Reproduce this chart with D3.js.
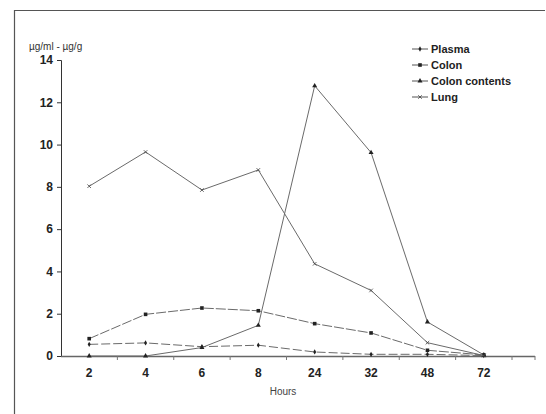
<!DOCTYPE html>
<html>
<head>
<meta charset="utf-8">
<script src="https://cdnjs.cloudflare.com/ajax/libs/d3/7.8.5/d3.min.js"></script>
<style>
  body { margin: 0; background: #fff; }
  svg { display: block; }
</style>
</head>
<body>
<svg id="chart" width="546" height="414"></svg>
<script>
// data
var hours = ["2", "4", "6", "8", "24", "32", "48", "72"];
var plasma = [0.55, 0.62, 0.44, 0.51, 0.19, 0.08, 0.08, 0.02];
var colon = [0.82, 1.97, 2.27, 2.14, 1.53, 1.09, 0.27, 0.05];
var colonContents = [0.0, 0.0, 0.40, 1.45, 12.78, 9.62, 1.61, 0.05];
var lung = [8.03, 9.65, 7.85, 8.8, 4.36, 3.1, 0.63, 0.02];
var yTicks = [0, 2, 4, 6, 8, 10, 12, 14];

var series = [
  { id: "Plasma", values: plasma, marker: "diamond", dash: "9,3" },
  { id: "Colon", values: colon, marker: "square", dash: "10,2" },
  { id: "Colon contents", values: colonContents, marker: "triangle", dash: null },
  { id: "Lung", values: lung, marker: "cross", dash: null }
];

var svg = d3.select("#chart");
var ink = "#333";

// outer frame (only top and left visible in the original)
svg.append("path")
  .attr("d", "M14.5,414 L14.5,10.5 L545,10.5")
  .attr("fill", "none")
  .attr("stroke", "#555")
  .attr("stroke-width", 1.2);

var x = d3.scaleBand().domain(hours).range([61, 512]);
var y = d3.scaleLinear().domain([0, 14]).range([356, 60]);

function cx(i) { return x(hours[i]) + x.bandwidth() / 2; }

// y axis
var gy = svg.append("g")
  .attr("transform", "translate(61,0)")
  .call(d3.axisLeft(y).tickValues(yTicks).tickSize(4).tickPadding(4));
gy.select(".domain").attr("stroke", ink).attr("d", "M-4,60.5H0.5V356");
gy.selectAll(".tick line").attr("stroke", ink);
gy.selectAll(".tick text")
  .attr("fill", "#222")
  .style("font", "bold 12px 'Liberation Sans', Arial, sans-serif");

// x axis
var gx = svg.append("g")
  .attr("transform", "translate(0,356)")
  .call(d3.axisBottom(x).tickSize(0).tickPadding(12));
gx.select(".domain").remove();
gx.selectAll(".tick text")
  .attr("fill", "#222")
  .style("font", "bold 12px 'Liberation Sans', Arial, sans-serif");
svg.append("line")
  .attr("x1", 61).attr("x2", 535)
  .attr("y1", 356.5).attr("y2", 356.5)
  .attr("stroke", "#666").attr("stroke-width", 1.6);
var bounds = hours.map(function(h) { return x(h) + x.bandwidth(); });
bounds.push(535);
svg.selectAll(".xtick")
  .data(bounds)
  .enter().append("line")
  .attr("class", "xtick")
  .attr("x1", function(d) { return d; }).attr("x2", function(d) { return d; })
  .attr("y1", 356).attr("y2", 360)
  .attr("stroke", "#777");

// titles
svg.append("text")
  .attr("x", 29).attr("y", 50)
  .attr("fill", "#333")
  .style("font", "10px 'Liberation Sans', Arial, sans-serif")
  .text("µg/ml - µg/g");
svg.append("text")
  .attr("x", 283).attr("y", 395)
  .attr("text-anchor", "middle")
  .attr("fill", "#444")
  .style("font", "10px 'Liberation Sans Narrow', 'Liberation Sans', Arial, sans-serif")
  .text("Hours");

function drawMarker(g, type, px, py) {
  if (type == "diamond") {
    g.append("path").attr("d", d3.symbol(d3.symbolDiamond, 8)())
      .attr("transform", "translate(" + px + "," + py + ")").attr("fill", "#222");
  }
  if (type == "square") {
    g.append("path").attr("d", d3.symbol(d3.symbolSquare, 13)())
      .attr("transform", "translate(" + px + "," + py + ")").attr("fill", "#222");
  }
  if (type == "triangle") {
    g.append("path").attr("d", d3.symbol(d3.symbolTriangle, 11)())
      .attr("transform", "translate(" + px + "," + py + ")").attr("fill", "#222");
  }
  if (type == "cross") {
    g.append("path").attr("d", d3.symbol(d3.symbolTimes, 10)())
      .attr("transform", "translate(" + px + "," + py + ")")
      .attr("fill", "none").attr("stroke", "#444").attr("stroke-width", 0.8);
  }
}

var line = d3.line()
  .x(function(d, i) { return cx(i); })
  .y(function(d) { return y(d); });

series.forEach(function(s) {
  var g = svg.append("g").attr("class", "series");
  g.append("path")
    .attr("d", line(s.values))
    .attr("fill", "none")
    .attr("stroke", "#6a6a6a")
    .attr("stroke-width", 1)
    .attr("stroke-dasharray", s.dash);
  s.values.forEach(function(v, i) {
    drawMarker(g, s.marker, cx(i), y(v));
  });
});

// legend
var legend = svg.append("g");
series.forEach(function(s, i) {
  var ly = 49 + i * 16;
  legend.append("line")
    .attr("x1", 412).attr("x2", 428)
    .attr("y1", ly).attr("y2", ly)
    .attr("stroke", "#555").attr("stroke-width", 1);
  drawMarker(legend, s.marker, 420, ly);
  legend.append("text")
    .attr("x", 431).attr("y", ly)
    .attr("dy", "0.35em")
    .attr("fill", "#222")
    .style("font", "bold 11px 'Liberation Sans Narrow', 'Liberation Sans', Arial, sans-serif")
    .text(s.id);
});
</script>
</body>
</html>
